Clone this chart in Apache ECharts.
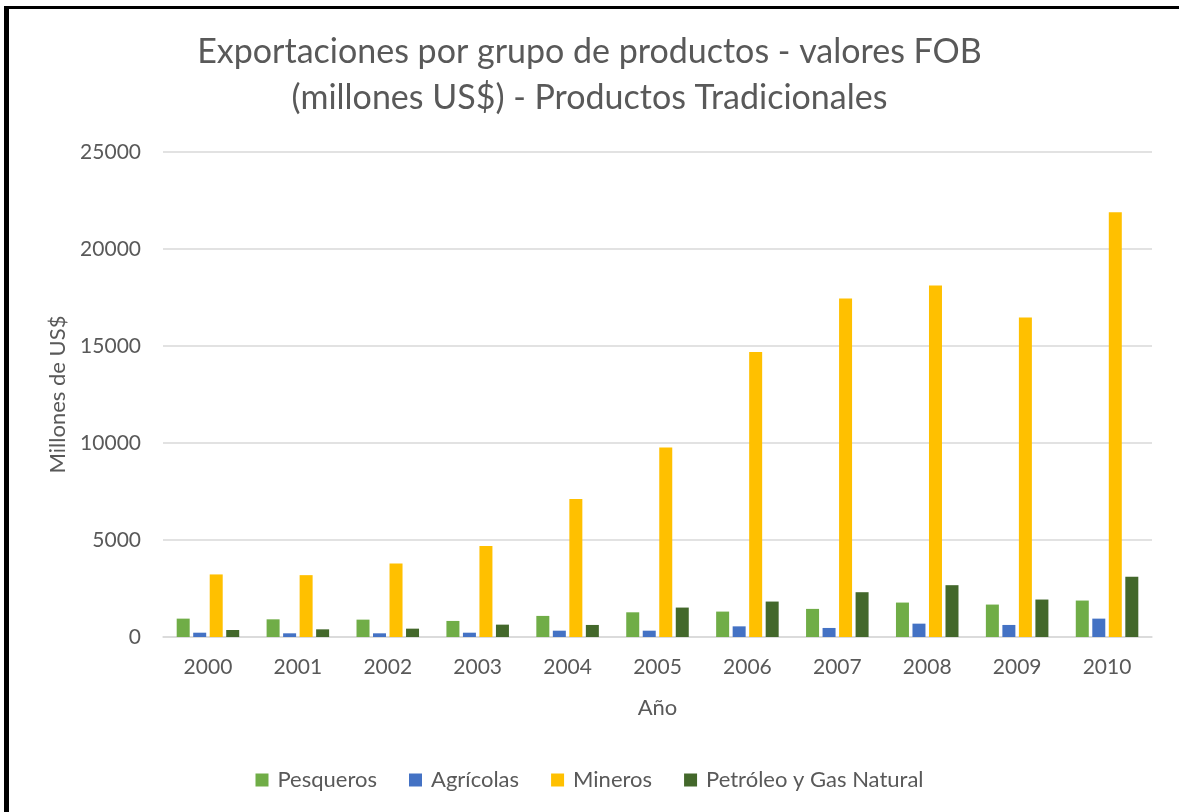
<!DOCTYPE html>
<html>
<head>
<meta charset="utf-8">
<script src="https://cdn.jsdelivr.net/npm/echarts@6/dist/echarts.min.js"></script>
<style>
html, body { margin: 0; padding: 0; background: #fff; }
#frame {
    position: absolute; left: 4px; top: 6px; width: 1170px; height: 820px;
    border-left: 5px solid #000; border-top: 3px solid #000; border-right: 3px solid #000;
}
#chart { position: absolute; left: 0; top: 0; width: 1179px; height: 812px; }
</style>
</head>
<body>
<div id="frame"></div>
<div id="chart"></div>
<script>
var years = ['2000','2001','2002','2003','2004','2005','2006','2007','2008','2009','2010'];
var pesqueros = [947, 911, 895, 828, 1087, 1273, 1310, 1449, 1775, 1672, 1879];
var agricolas = [222, 190, 190, 222, 326, 326, 549, 466, 688, 621, 947];
var mineros = [3225, 3188, 3794, 4690, 7113, 9773, 14690, 17443, 18113, 16464, 21892];
var petroleo = [362, 395, 430, 637, 621, 1517, 1827, 2309, 2671, 1931, 3106];
var seriesNames = ['Pesqueros', 'Agrícolas', 'Mineros', 'Petróleo y Gas Natural'];
var yTicks = [0, 5000, 10000, 15000, 20000, 25000];

var font = 'Lato, "Open Sans", sans-serif';

var chartObj = {
    myChart : echarts.init(document.getElementById('chart')),
    option : null,
    init : function(){
        var that = this;
        that.render();
    },
    makeBar : function(name, data, color){
        return {
            name: name,
            type: 'bar',
            data: data,
            barWidth: 13,
            barGap: '27%',
            itemStyle: { color: color }
        };
    },
    render : function(){
        var that = this;
        that.option = {
            animation: false,
            color: ['#70AD47', '#4472C4', '#FFC000', '#43682B'],
            title: {
                text: 'Exportaciones por grupo de productos - valores FOB\n(millones US$) - Productos Tradicionales',
                left: 'center',
                top: 24,
                textStyle: {
                    fontFamily: font,
                    fontWeight: 'normal',
                    fontSize: 34,
                    color: '#595959',
                    lineHeight: 46
                }
            },
            legend: {
                bottom: 16,
                left: 'center',
                itemWidth: 13,
                itemHeight: 13,
                itemGap: 32,
                icon: 'rect',
                data: seriesNames,
                textStyle: { fontFamily: font, fontSize: 22, color: '#595959', padding: [0, 0, 0, 4] }
            },
            grid: { left: 163, right: 27, top: 152, bottom: 175 },
            xAxis: {
                type: 'category',
                data: years,
                name: 'Año',
                nameLocation: 'middle',
                nameGap: 60,
                nameTextStyle: { fontFamily: font, fontSize: 22, color: '#595959' },
                axisLine: { lineStyle: { color: '#D9D9D9', width: 1.5 } },
                axisTick: { show: false },
                axisLabel: { fontFamily: font, fontSize: 21, color: '#595959', margin: 20 }
            },
            yAxis: {
                type: 'value',
                min: yTicks[0],
                max: yTicks[yTicks.length - 1],
                interval: yTicks[1] - yTicks[0],
                name: 'Millones de US$',
                nameLocation: 'middle',
                nameGap: 92,
                nameTextStyle: { fontFamily: font, fontSize: 22, color: '#595959' },
                axisLine: { show: false },
                axisTick: { show: false },
                splitLine: { lineStyle: { color: '#D9D9D9', width: 1.5 } },
                axisLabel: {
                    fontFamily: font, fontSize: 21, color: '#595959', margin: 22,
                    formatter: function(v){ return String(v); }
                }
            },
            series: [
                that.makeBar(seriesNames[0], pesqueros, '#70AD47'),
                that.makeBar(seriesNames[1], agricolas, '#4472C4'),
                that.makeBar(seriesNames[2], mineros, '#FFC000'),
                that.makeBar(seriesNames[3], petroleo, '#43682B')
            ]
        };
        that.myChart.setOption(that.option);
    }
};
chartObj.init();
</script>
</body>
</html>
